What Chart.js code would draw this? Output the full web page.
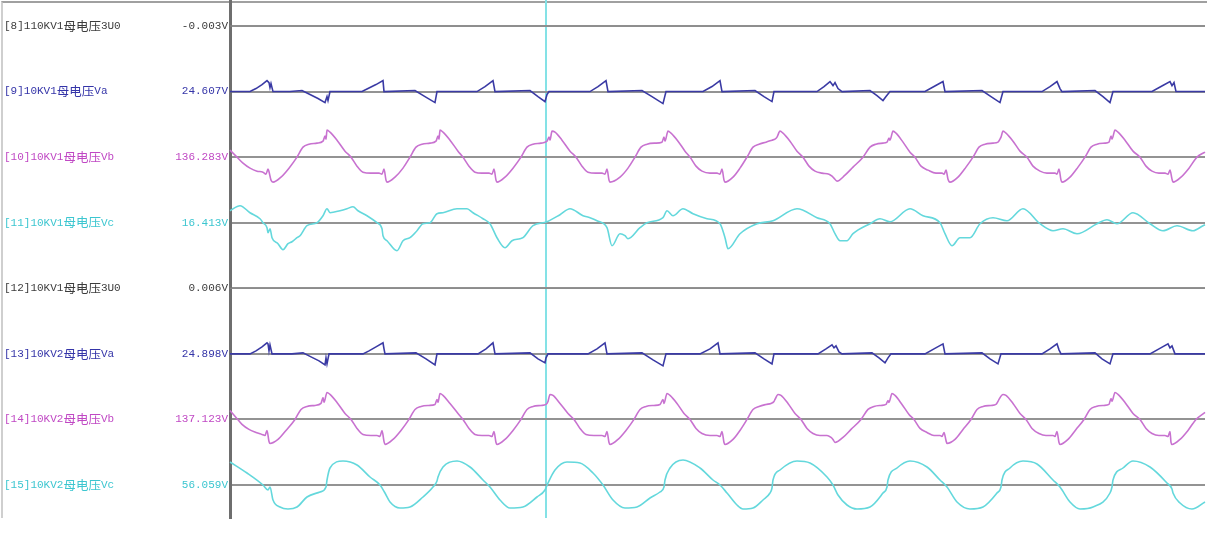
<!DOCTYPE html>
<html><head><meta charset="utf-8">
<script src="https://cdn.jsdelivr.net/npm/chart.js@4.4.1/dist/chart.umd.min.js"></script>
<style>
html,body{margin:0;padding:0;background:#fff;}
#wrap{position:relative;width:1207px;height:551px;overflow:hidden;}
#frame{position:absolute;left:1px;top:1px;width:1206px;height:517px;border-top:2px solid #a0a0a0;border-left:2px solid #cfcfcf;box-sizing:border-box;}
#c{position:absolute;left:0;top:0;}
</style></head><body>
<div id="wrap"><div id="frame"></div><canvas id="c" width="1207" height="551"></canvas></div>
<script>
// ---- channel labels ----
const channelNames = ['[8]110KV1母电压3U0','[9]10KV1母电压Va','[10]10KV1母电压Vb','[11]10KV1母电压Vc','[12]10KV1母电压3U0','[13]10KV2母电压Va','[14]10KV2母电压Vb','[15]10KV2母电压Vc'];
const channelValues = ['-0.003V','24.607V','136.283V','16.413V','0.006V','24.898V','137.123V','56.059V'];
const cursorSample = 316;
// ---- waveform samples [sample, amplitude] ----
const u01 = [[0,0],[975,0]];
const va1 = [[0,0],[20,0],[26,3],[32,7],[37,11],[39,9],[40,4],[41,8],[43,0],[60,0],[72,1],[80,-3],[88,-7],[95,-11],[97,-5],[98,-9],[100,0],[132,0],[138,3],[146,7],[153,11],[154,0],[185,1],[195,-5],[205,-11],[207,0],[247,0],[255,5],[263,11],[265,0],[300,1],[308,-5],[315,-10],[317,-3],[319,0],[360,0],[368,5],[376,11],[378,0],[412,1],[422,-5],[433,-12],[436,0],[473,0],[482,5],[490,11],[492,0],[525,1],[534,-5],[542,-10],[544,0],[587,0],[594,5],[600,10],[603,6],[605,9],[608,3],[612,0],[640,1],[647,-4],[653,-9],[656,-5],[660,0],[695,0],[704,5],[713,10],[715,0],[752,1],[761,-5],[770,-11],[773,0],[812,0],[820,5],[827,10],[830,3],[832,0],[865,1],[873,-5],[880,-11],[883,0],[922,0],[931,5],[940,10],[942,6],[944,9],[946,0],[975,0]];
const vb1 = [[0,7],[7,0],[13,-6],[20,-11],[27,-14],[33,-15],[36,-17],[38,-12],[41,-23],[43,-25],[51,-20],[59,-11],[67,0],[73,10],[79,13],[87,14],[93,16],[95,21],[96,18],[97,27],[100,25],[107,17],[115,6],[121,0],[127,-9],[133,-15],[141,-16],[149,-16],[152,-17],[154,-12],[156,-23],[157,-25],[165,-20],[173,-11],[180,0],[186,10],[192,13],[200,14],[206,16],[208,21],[209,18],[210,27],[213,25],[220,17],[228,6],[233,0],[239,-9],[245,-15],[252,-16],[259,-16],[262,-17],[264,-12],[266,-23],[267,-25],[275,-20],[283,-11],[291,0],[297,10],[303,13],[311,14],[317,16],[319,20],[320,17],[322,26],[325,25],[332,17],[340,6],[346,0],[352,-9],[358,-15],[366,-16],[372,-16],[375,-17],[377,-12],[379,-23],[380,-25],[390,-20],[398,-11],[405,0],[411,10],[417,13],[425,14],[432,15],[434,20],[435,16],[438,26],[441,24],[448,16],[455,6],[460,0],[466,-9],[472,-14],[480,-16],[487,-16],[490,-17],[492,-12],[494,-23],[495,-25],[503,-20],[510,-11],[517,0],[523,10],[529,13],[536,15],[542,17],[545,18],[547,20],[550,26],[553,24],[560,16],[567,6],[573,0],[579,-9],[585,-14],[592,-16],[599,-17],[602,-19],[604,-21],[607,-24],[615,-18],[623,-10],[633,0],[640,10],[646,13],[653,14],[657,15],[659,19],[660,17],[663,26],[666,24],[673,15],[680,5],[685,0],[691,-9],[698,-13],[706,-16],[712,-16],[714,-17],[716,-13],[718,-22],[720,-25],[728,-20],[736,-10],[743,0],[749,10],[755,13],[763,14],[768,15],[770,18],[771,20],[773,26],[776,24],[783,16],[790,6],[797,0],[803,-9],[810,-14],[817,-16],[825,-16],[827,-17],[829,-12],[831,-23],[832,-25],[840,-20],[848,-10],[855,0],[861,10],[867,13],[875,14],[879,15],[881,21],[882,18],[885,27],[888,25],[895,17],[903,6],[910,0],[916,-9],[922,-14],[929,-16],[935,-16],[938,-17],[940,-13],[942,-22],[943,-25],[951,-20],[959,-11],[967,0],[975,5]];
const vc1 = [[0,12],[10,17],[20,10],[30,4],[33,0],[37,-5],[38,-10],[40,-6],[42,-15],[48,-21],[53,-27],[58,-21],[62,-19],[67,-15],[70,-13],[77,-3],[87,0],[93,7],[97,14],[100,10],[110,12],[117,14],[123,16],[128,12],[137,7],[147,0],[152,-6],[153,-13],[157,-18],[167,-28],[173,-18],[180,-15],[187,-8],[193,-1],[200,0],[207,9],[213,10],[227,14],[237,14],[243,10],[253,4],[260,-1],[267,-15],[275,-25],[282,-18],[290,-16],[293,-15],[303,-3],[317,1],[330,8],[340,14],[353,7],[360,5],[367,2],[377,-5],[382,-23],[390,-11],[395,-13],[398,-16],[410,-5],[417,0],[433,5],[437,12],[443,7],[453,14],[463,9],[477,4],[490,-1],[495,-15],[498,-26],[510,-11],[527,-1],[543,2],[567,14],[587,5],[600,-1],[605,-11],[610,-18],[617,-18],[623,-11],[640,-1],[650,4],[660,1],[680,14],[693,7],[710,0],[715,-11],[722,-23],[730,-15],[740,-15],[750,-1],[763,5],[777,2],[793,14],[810,-1],[823,-8],[833,-6],[847,-11],[867,-1],[877,3],[887,-1],[903,10],[920,-1],[933,-8],[947,-3],[963,-8],[973,-3],[975,-2]];
const u02 = [[0,0],[975,0]];
const va2 = [[0,0],[20,0],[26,3],[32,7],[37,11],[38,10],[39,3],[40,9],[42,0],[62,0],[73,1],[81,-3],[89,-7],[95,-11],[96,-4],[97,-10],[99,0],[133,0],[139,3],[146,7],[153,11],[154,5],[155,0],[186,1],[196,-5],[205,-11],[207,0],[248,0],[256,5],[263,11],[265,0],[300,1],[308,-5],[315,-9],[316,-4],[318,0],[358,0],[367,5],[375,11],[377,0],[412,1],[423,-6],[433,-12],[436,0],[470,0],[480,5],[488,11],[490,0],[525,1],[534,-5],[542,-10],[544,0],[588,0],[596,5],[602,9],[604,6],[606,8],[609,2],[612,0],[642,1],[649,-4],[655,-9],[658,-4],[661,0],[695,0],[704,5],[713,10],[715,0],[752,1],[760,-5],[768,-10],[771,0],[812,0],[820,5],[827,10],[829,4],[831,0],[865,1],[872,-5],[880,-10],[883,0],[920,0],[929,5],[938,10],[940,6],[942,8],[945,0],[975,0]];
const vb2 = [[0,9],[6,2],[12,-5],[19,-10],[26,-13],[32,-15],[35,-16],[37,-11],[39,-22],[40,-24],[48,-20],[56,-11],[65,0],[71,10],[77,13],[85,14],[91,16],[93,22],[94,17],[97,27],[100,25],[107,17],[115,6],[121,0],[127,-9],[133,-15],[141,-16],[147,-16],[150,-17],[152,-11],[154,-22],[155,-25],[163,-20],[171,-11],[179,0],[185,10],[191,13],[199,14],[205,15],[207,20],[208,17],[210,26],[213,24],[220,16],[228,6],[233,0],[239,-9],[245,-15],[252,-16],[259,-16],[262,-17],[264,-12],[266,-23],[267,-25],[275,-20],[283,-11],[291,0],[297,10],[303,13],[311,14],[316,15],[318,18],[320,25],[323,24],[330,16],[338,6],[344,0],[350,-9],[356,-15],[364,-16],[372,-16],[375,-17],[377,-12],[379,-23],[380,-25],[388,-20],[396,-11],[404,0],[410,10],[416,13],[424,14],[430,15],[433,20],[434,16],[437,26],[440,24],[447,16],[454,6],[460,0],[466,-9],[472,-14],[480,-16],[487,-16],[490,-17],[492,-12],[494,-23],[495,-25],[503,-20],[510,-11],[517,0],[523,10],[529,13],[536,15],[541,16],[544,18],[545,20],[548,25],[551,24],[558,16],[565,6],[571,0],[577,-9],[583,-14],[590,-16],[597,-16],[601,-18],[603,-20],[605,-23],[613,-18],[621,-10],[631,0],[638,10],[644,13],[651,14],[656,15],[658,19],[659,17],[662,26],[665,24],[672,15],[679,5],[684,0],[690,-9],[697,-13],[704,-16],[710,-16],[712,-17],[714,-13],[716,-21],[717,-24],[725,-20],[733,-10],[741,0],[747,10],[753,13],[761,14],[766,15],[768,18],[769,20],[773,25],[776,24],[783,16],[790,6],[796,0],[802,-9],[809,-14],[816,-16],[823,-16],[825,-17],[827,-12],[829,-23],[830,-25],[838,-20],[846,-10],[854,0],[860,10],[866,13],[874,14],[879,15],[881,21],[882,18],[885,27],[888,25],[895,17],[903,6],[910,0],[916,-9],[922,-14],[929,-16],[935,-16],[938,-17],[940,-12],[941,-23],[942,-25],[950,-20],[958,-11],[966,0],[975,7]];
const vc2 = [[0,23],[17,12],[33,0],[38,-5],[40,-2],[43,-15],[50,-22],[58,-24],[67,-22],[77,-12],[90,-7],[96,-2],[97,5],[100,17],[113,24],[127,20],[140,8],[150,0],[155,-8],[160,-17],[170,-23],[180,-22],[193,-12],[203,-2],[207,4],[208,8],[213,18],[227,24],[240,18],[253,5],[260,-2],[270,-15],[280,-23],[293,-22],[307,-12],[315,-5],[318,2],[325,15],[337,23],[350,22],[363,12],[373,0],[383,-15],[395,-23],[407,-22],[420,-13],[430,-7],[434,-2],[435,5],[440,17],[453,25],[470,17],[483,5],[490,0],[497,-8],[507,-20],[513,-24],[523,-23],[533,-15],[540,-8],[542,-3],[543,5],[550,15],[567,24],[580,22],[597,8],[603,0],[608,-10],[617,-20],[627,-24],[640,-22],[653,-8],[657,-2],[658,5],[667,17],[680,24],[697,18],[710,5],[717,-2],[727,-17],[740,-24],[753,-22],[767,-8],[771,-2],[772,5],[780,17],[793,24],[807,21],[823,5],[830,-2],[840,-17],[850,-24],[863,-22],[880,-8],[882,-2],[883,5],[893,17],[903,24],[920,18],[937,2],[942,-4],[943,-8],[950,-18],[962,-24],[975,-17]];

const seriesData = [u01, va1, vb1, vc1, u02, va2, vb2, vc2];
const textColors = ['#3c3c3c','#3434a8','#c048c4','#3cc6d0','#3c3c3c','#3434a8','#c048c4','#3cc6d0'];
const lineColors = ['#8a8a8a','#3a3aa4','#c872d0','#64d8dc','#8a8a8a','#3a3aa4','#c872d0','#64d8dc'];
const smooth = [false,false,true,true,false,false,true,true];

const MONO = '"Liberation Mono",monospace';
const CJK = '"Noto Sans CJK SC",sans-serif';
const FONT = {family: '"Liberation Mono","Noto Sans CJK SC",monospace', size: 11};

const scales = {
  x: {
    type: 'linear', min: 0, max: 975, position: 'bottom',
    ticks: {display: false},
    grid: {color: '#84e2e6', lineWidth: 2, drawTicks: false},
    border: {display: false},
    afterBuildTicks: s => { s.ticks = [{value: cursorSample}]; },
    afterFit: s => { s.height = 0; s.paddingLeft = 0; s.paddingRight = 0; }
  }
};
seriesData.forEach((d, i) => {
  scales['y' + i] = {
    type: 'linear', position: 'left', stack: 'ch',
    stackWeight: i === 0 ? 59 : 65.57, weight: 8 - i,
    min: -33, max: i === 0 ? 26 : 32.57,
    ticks: {color: textColors[i], font: FONT, padding: 2, crossAlign: 'near', callback: () => channelValues[i]},
    grid: {color: '#939393', lineWidth: 2, drawTicks: false},
    border: {display: true, color: '#6e6e6e', width: 3},
    afterBuildTicks: s => { s.ticks = [{value: 0}]; },
    afterFit: s => { s.width = 230; s.paddingTop = 0; s.paddingBottom = 0; }
  };
});

// channel names: ASCII runs in mono 11px, CJK runs slightly larger
const namePlugin = {
  id: 'channelNames',
  afterDraw(chart) {
    const ctx = chart.ctx;
    ctx.save();
    ctx.textBaseline = 'middle';
    ctx.textAlign = 'left';
    channelNames.forEach((n, i) => {
      const y = chart.scales['y' + i].getPixelForValue(0);
      ctx.fillStyle = textColors[i];
      const runs = n.match(/[\u4e00-\u9fff]+|[^\u4e00-\u9fff]+/g);
      let x = 4;
      runs.forEach(r => {
        const isCJK = /[\u4e00-\u9fff]/.test(r);
        ctx.font = isCJK ? ('12.5px ' + CJK) : ('11px ' + MONO);
        ctx.fillText(r, x, y);
        x += ctx.measureText(r).width;
      });
    });
    ctx.restore();
  }
};

new Chart(document.getElementById('c'), {
  type: 'line',
  data: {
    datasets: seriesData.map((d, i) => ({
      label: channelNames[i],
      data: d.map(p => ({x: p[0], y: p[1]})),
      xAxisID: 'x', yAxisID: 'y' + i,
      borderColor: lineColors[i],
      borderWidth: (i % 4 === 0) ? 1 : 1.6,
      pointRadius: 0, fill: false, clip: false,
      tension: 0,
      cubicInterpolationMode: smooth[i] ? 'monotone' : 'default'
    }))
  },
  options: {
    responsive: false, animation: false, events: [],
    layout: {padding: {left: 0, right: 2, top: 0, bottom: 33}},
    plugins: {legend: {display: false}, tooltip: {enabled: false}, title: {display: false}},
    scales
  },
  plugins: [namePlugin]
});
</script>
</body></html>
